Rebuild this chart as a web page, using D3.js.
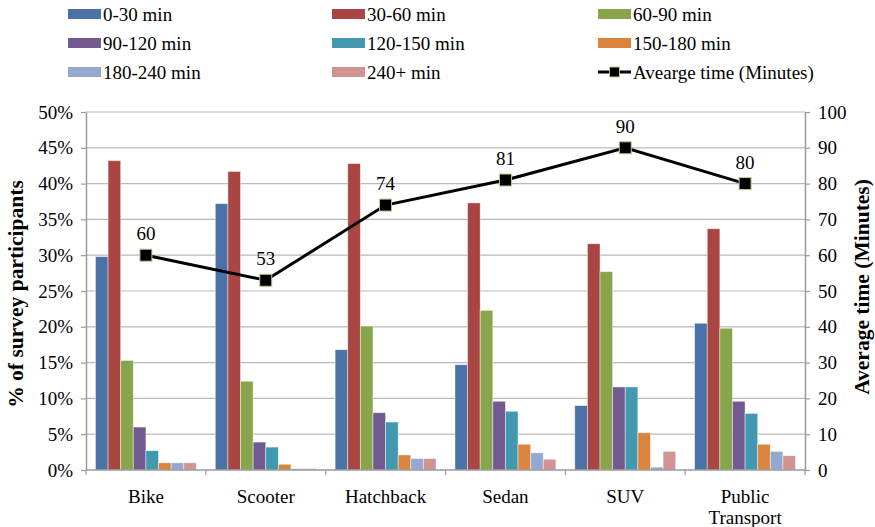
<!DOCTYPE html>
<html>
<head>
<meta charset="utf-8">
<script src="https://cdn.jsdelivr.net/npm/d3@7"></script>
<style>
  html, body { margin: 0; padding: 0; background: #fff; }
  svg, svg text { font-family: "Liberation Serif", "Times New Roman", Times, serif !important; }
</style>
</head>
<body>
<svg id="chart" width="875" height="527"></svg>
<script>
// Vehicle categories (x axis)
const categories = ["Bike", "Scooter", "Hatchback", "Sedan", "SUV", "Public Transport"];

// Commute-time buckets (bar series)
const seriesNames = ["0-30 min", "30-60 min", "60-90 min", "90-120 min",
                     "120-150 min", "150-180 min", "180-240 min", "240+ min"];

// Share of survey participants (%) per bucket, one array per vehicle
const bike      = [29.8, 43.2, 15.3, 6.0, 2.7, 1.0, 1.0, 1.0];
const scooter   = [37.2, 41.7, 12.4, 3.9, 3.2, 0.8, 0.2, 0.2];
const hatchback = [16.8, 42.8, 20.1, 8.0, 6.7, 2.1, 1.6, 1.6];
const sedan     = [14.7, 37.3, 22.3, 9.6, 8.2, 3.6, 2.4, 1.5];
const suv       = [9.0, 31.6, 27.7, 11.6, 11.6, 5.2, 0.4, 2.6];
const publicTransport = [20.5, 33.7, 19.8, 9.6, 7.9, 3.6, 2.6, 2.0];

// Average commute time in minutes (line series)
const averageTime = [60, 53, 74, 81, 90, 80];
const lineName = "Avearge time (Minutes)";

// Axis tick values
const leftTicks = [0, 5, 10, 15, 20, 25, 30, 35, 40, 45, 50];
const rightTicks = [0, 10, 20, 30, 40, 50, 60, 70, 80, 90, 100];

const colors = ["#4A72A6", "#A94542", "#88A54C", "#725990",
                "#4298AF", "#DB843D", "#93A9D0", "#D09493"];

const shares = [bike, scooter, hatchback, sedan, suv, publicTransport];

const serif = "'Liberation Serif', 'Times New Roman', Times, serif";
const svg = d3.select("#chart");
const plot = { left: 86, right: 805, top: 112, bottom: 470 };
const fontSize = 19;
const titleSize = 21.5;

const x0 = d3.scaleBand().domain(categories).range([plot.left, plot.right]).paddingInner(0).paddingOuter(0);
const x1 = d3.scaleBand().domain(seriesNames).range([0, x0.bandwidth()]).paddingInner(0).paddingOuter(0.75);
const yL = d3.scaleLinear().domain([0, 50]).range([plot.bottom, plot.top]);
const yR = d3.scaleLinear().domain([0, 100]).range([plot.bottom, plot.top]);

// Horizontal gridlines
svg.append("g")
  .selectAll("line")
  .data(leftTicks.filter(d => d > 0))
  .join("line")
  .attr("x1", plot.left).attr("x2", plot.right)
  .attr("y1", d => yL(d)).attr("y2", d => yL(d))
  .attr("stroke", "#b9b9b9").attr("stroke-width", 1.2);

// Grouped bars
const groups = svg.append("g")
  .selectAll("g")
  .data(categories)
  .join("g")
  .attr("transform", d => `translate(${x0(d)},0)`);

groups.selectAll("rect")
  .data((d, i) => shares[i].map((v, j) => ({ key: seriesNames[j], value: v, j })))
  .join("rect")
  .attr("x", d => x1(d.key))
  .attr("width", x1.bandwidth())
  .attr("y", d => yL(d.value))
  .attr("height", d => plot.bottom - yL(d.value))
  .attr("fill", d => colors[d.j])
  .attr("stroke", "rgba(255,255,255,0.55)")
  .attr("stroke-width", 0.8);

// Axes
const axisColor = "#9a9a9a";
const styleAxis = g => {
  g.attr("font-family", null);
  g.select(".domain").attr("stroke", axisColor).attr("stroke-width", 1.5);
  g.selectAll(".tick line").attr("stroke", axisColor).attr("stroke-width", 1.2);
  g.selectAll(".tick text").attr("fill", "#000").attr("font-size", fontSize)
    .style("font-family", serif);
};

svg.append("g")
  .attr("transform", `translate(${plot.left},0)`)
  .call(d3.axisLeft(yL).tickValues(leftTicks).tickFormat(d => d + "%").tickSize(5).tickSizeOuter(0).tickPadding(8))
  .call(styleAxis);

svg.append("g")
  .attr("transform", `translate(${plot.right},0)`)
  .call(d3.axisRight(yR).tickValues(rightTicks).tickSize(5).tickSizeOuter(0).tickPadding(8))
  .call(styleAxis);

// Bottom axis: ticks at category boundaries
const boundaries = categories.map(c => x0(c)).concat([plot.right]);
const xb = svg.append("g");
xb.append("line")
  .attr("x1", plot.left).attr("x2", plot.right)
  .attr("y1", plot.bottom).attr("y2", plot.bottom)
  .attr("stroke", axisColor).attr("stroke-width", 1.5);
xb.selectAll("line.tk")
  .data(boundaries)
  .join("line")
  .attr("class", "tk")
  .attr("x1", d => d).attr("x2", d => d)
  .attr("y1", plot.bottom).attr("y2", plot.bottom + 5)
  .attr("stroke", axisColor).attr("stroke-width", 1.2);

// Category labels (wrap "Public Transport" over two lines)
const catLabels = xb.selectAll("text.cat")
  .data(categories)
  .join("text")
  .attr("class", "cat")
  .attr("text-anchor", "middle")
  .attr("font-size", fontSize)
  .style("font-family", serif)
  .attr("x", d => x0(d) + x0.bandwidth() / 2)
  .attr("y", 503);
catLabels.each(function(d) {
  const words = d === "Public Transport" ? ["Public", "Transport"] : [d];
  const t = d3.select(this);
  words.forEach((w, i) => {
    t.append("tspan")
      .attr("x", x0(d) + x0.bandwidth() / 2)
      .attr("dy", i === 0 ? 0 : 21)
      .text(w);
  });
});

// Average time line with square markers
const cx = c => x0(c) + x0.bandwidth() / 2;
const line = d3.line().x((d, i) => cx(categories[i])).y(d => yR(d));
svg.append("path")
  .datum(averageTime)
  .attr("d", line)
  .attr("fill", "none")
  .attr("stroke", "#000")
  .attr("stroke-width", 3);

const ms = 12;
svg.append("g")
  .selectAll("rect")
  .data(averageTime)
  .join("rect")
  .attr("x", (d, i) => cx(categories[i]) - ms / 2)
  .attr("y", d => yR(d) - ms / 2)
  .attr("width", ms).attr("height", ms)
  .attr("fill", "#000")
  .attr("stroke", "#b9cf8f")
  .attr("stroke-width", 1);

svg.append("g")
  .selectAll("text")
  .data(averageTime)
  .join("text")
  .attr("x", (d, i) => cx(categories[i]))
  .attr("y", d => yR(d) - 15)
  .attr("text-anchor", "middle")
  .attr("font-size", fontSize)
  .style("font-family", serif)
  .text(d => d);

// Axis titles
svg.append("text")
  .attr("transform", `translate(23,294) rotate(-90)`)
  .attr("text-anchor", "middle")
  .attr("font-size", titleSize)
  .attr("font-weight", "bold")
  .style("font-family", serif)
  .text("% of survey participants");

svg.append("text")
  .attr("transform", `translate(869,287) rotate(-90)`)
  .attr("text-anchor", "middle")
  .attr("font-size", titleSize)
  .attr("font-weight", "bold")
  .style("font-family", serif)
  .text("Average time (Minutes)");

// Legend: three columns, three rows
const legendItems = seriesNames.map((n, i) => ({ name: n, color: colors[i], type: "bar" }))
  .concat([{ name: lineName, type: "line" }]);
const colX = [68, 332, 598];
const rowY = [14, 43, 72];
const legend = svg.append("g");
legendItems.forEach((item, i) => {
  const lx = colX[i % 3], ly = rowY[Math.floor(i / 3)];
  const g = legend.append("g").attr("transform", `translate(${lx},${ly})`);
  if (item.type === "bar") {
    g.append("rect").attr("x", 0).attr("y", -5).attr("width", 33).attr("height", 10)
      .attr("fill", item.color);
  } else {
    g.append("line").attr("x1", 0).attr("x2", 33).attr("y1", 0).attr("y2", 0)
      .attr("stroke", "#000").attr("stroke-width", 3);
    g.append("rect").attr("x", 11.5).attr("y", -5).attr("width", 10).attr("height", 10)
      .attr("fill", "#000").attr("stroke", "#b9cf8f").attr("stroke-width", 1);
  }
  g.append("text").attr("x", 35).attr("y", 6.5).attr("font-size", fontSize)
    .style("font-family", serif).text(item.name);
});
</script>
</body>
</html>
